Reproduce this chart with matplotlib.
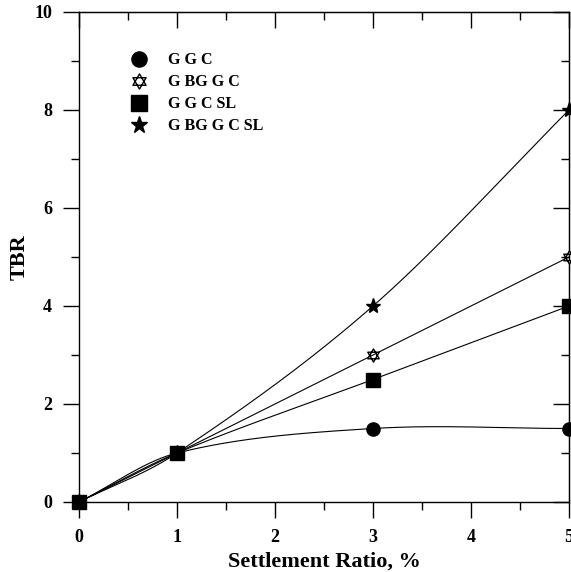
import numpy as np
import matplotlib
matplotlib.use("Agg")
import matplotlib.pyplot as plt
from matplotlib.path import Path
from matplotlib.ticker import MultipleLocator

plt.rcParams["font.family"] = ["Liberation Serif", "DejaVu Serif"]
plt.rcParams["font.weight"] = "bold"

# data
settlement = [0, 1, 3, 5]
ggc = [0, 1, 1.5, 1.5]
gbggc = [0, 1, 3, 5]
ggcsl = [0, 1, 2.5, 4]
gbggcsl = [0, 1, 4, 8]
labels = ["G G C", "G BG G C", "G G C SL", "G BG G C SL"]


def smooth_line(x, y, xs):
    # cubic Hermite through the points, slopes from neighbours (draws the curve only)
    x = np.asarray(x, float)
    y = np.asarray(y, float)
    n = len(x)
    m = np.empty(n)
    m[0] = (y[1] - y[0]) / (x[1] - x[0])
    m[-1] = (y[-1] - y[-2]) / (x[-1] - x[-2])
    for i in range(1, n - 1):
        m[i] = (y[i + 1] - y[i - 1]) / (x[i + 1] - x[i - 1])
    out = np.empty_like(xs)
    for j, xv in enumerate(xs):
        i = int(np.clip(np.searchsorted(x, xv, side="right") - 1, 0, n - 2))
        h = x[i + 1] - x[i]
        t = (xv - x[i]) / h
        h00 = 2 * t ** 3 - 3 * t ** 2 + 1
        h10 = t ** 3 - 2 * t ** 2 + t
        h01 = -2 * t ** 3 + 3 * t ** 2
        h11 = t ** 3 - t ** 2
        out[j] = h00 * y[i] + h10 * h * m[i] + h01 * y[i + 1] + h11 * h * m[i + 1]
    return out


# Star of David marker (two triangles)
tri_up = [(0, 1), (-0.866, -0.5), (0.866, -0.5), (0, 1)]
tri_dn = [(0, -1), (-0.866, 0.5), (0.866, 0.5), (0, -1)]
hexagram = Path(tri_up + tri_dn,
                [Path.MOVETO, Path.LINETO, Path.LINETO, Path.CLOSEPOLY] * 2)

fig = plt.figure(figsize=(5.71, 5.72), dpi=100)
ax = fig.add_axes([79 / 571, 70 / 572, 490 / 571, 490 / 572])

series = [
    (ggc, dict(marker="o", color="black", mfc="black", ms=9.5)),
    (gbggc, dict(marker=hexagram, color="black", mfc="white", mew=1.0, ms=9.5)),
    (ggcsl, dict(marker="s", color="black", mfc="black", ms=9.5)),
    (gbggcsl, dict(marker="*", color="black", mfc="black", ms=11)),
]

xs = np.linspace(0, 5, 300)
handles = []
for vals, style in series:
    ax.plot(xs, smooth_line(settlement, vals, xs), color="black", lw=0.8)
    ax.plot(settlement, vals, ls="none", clip_on=False, zorder=3, **style)
    big = dict(style)
    big["ms"] = style["ms"] * 1.15
    h, = ax.plot([], [], ls="none", **big)
    handles.append(h)

ax.set_xlim(0, 5)
ax.set_ylim(0, 10)
ax.xaxis.set_major_locator(MultipleLocator(1))
ax.xaxis.set_minor_locator(MultipleLocator(0.5))
ax.yaxis.set_major_locator(MultipleLocator(2))
ax.yaxis.set_minor_locator(MultipleLocator(1))
ax.tick_params(which="major", direction="out", length=11.5, width=1, labelsize=13, pad=8)
ax.tick_params(which="minor", direction="out", length=5.8, width=1)
for sp in ax.spines.values():
    sp.set_linewidth(1)

top = ax.secondary_xaxis("top")
top.xaxis.set_major_locator(MultipleLocator(1))
top.xaxis.set_minor_locator(MultipleLocator(0.5))
top.tick_params(which="major", direction="in", length=11.5, width=1, labeltop=False)
top.tick_params(which="minor", direction="in", length=5.8, width=1)
right = ax.secondary_yaxis("right")
right.yaxis.set_major_locator(MultipleLocator(2))
right.yaxis.set_minor_locator(MultipleLocator(1))
right.tick_params(which="major", direction="in", length=11.5, width=1, labelright=False)
right.tick_params(which="minor", direction="in", length=5.8, width=1)

ax.set_xlabel("Settlement Ratio, %", fontsize=16, fontweight="bold", labelpad=4)
ax.set_ylabel("TBR", fontsize=16, fontweight="bold", labelpad=3)

ax.legend(handles, labels, loc="upper left", bbox_to_anchor=(0.107, 0.918),
          frameon=False, handlelength=1.0, handletextpad=1.3,
          labelspacing=0.38, borderpad=0, borderaxespad=0,
          prop={"weight": "bold", "size": 11.5})

fig.savefig("out.png", dpi=100)
